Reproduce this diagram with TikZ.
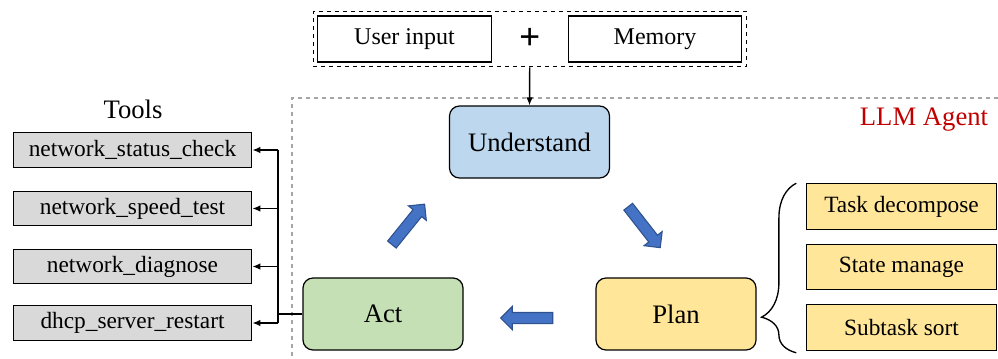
\documentclass[tikz,border=0pt]{standalone}
\usepackage{fontspec}
\setmainfont{Liberation Serif}
\usetikzlibrary{shapes, arrows.meta, fit, decorations.pathreplacing}
\definecolor{undblue}{HTML}{BDD7EE}
\definecolor{actgreen}{HTML}{C5E0B4}
\definecolor{planyellow}{HTML}{FFE699}
\definecolor{toolgray}{HTML}{D9D9D9}
\definecolor{flowblue}{HTML}{4472C4}
\definecolor{flowedge}{HTML}{2F528F}
\definecolor{agentred}{HTML}{C00000}

\begin{document}
\begin{tikzpicture}[x=0.75pt, y=-0.75pt,
    box/.style = {shape=rectangle, draw, line width=0.9pt, align=center, inner sep=0pt},
    stage/.style = {box, rounded corners=7.5pt, minimum width=120pt, minimum height=54pt,
        font=\fontsize{20}{24}\selectfont},
    inbox/.style = {box, minimum width=130pt, minimum height=34.5pt,
        font=\fontsize{18}{22}\selectfont},
    tool/.style = {box, fill=toolgray, minimum width=179pt, minimum height=26pt,
        font=\fontsize{17.5}{21}\selectfont},
    sub/.style = {box, fill=planyellow, minimum width=143pt, minimum height=34pt,
        font=\fontsize{17.5}{21}\selectfont},
    flow/.style = {shape=single arrow, draw=flowedge, fill=flowblue, line width=0.8pt,
        minimum height=39pt, single arrow head extend=4.5pt,
        inner xsep=0pt, inner ysep=3.75pt},
    wire/.style = {line width=1.1pt},
    tip/.style = {wire, -{Latex[length=6pt, width=5pt]}}]
    \useasboundingbox (0,0) rectangle (998,358);

    \draw[gray!70, dashed, line width=0.8pt] (998,98) -- (292,98) -- (292,358);
    \node[text=agentred, font=\fontsize{20}{24}\selectfont] (agent) at (924,120) {LLM Agent};

    \node[inbox] (user) at (404.5,39) {User input};
    \node[inbox] (mem) at (655,39) {Memory};
    \node[font=\fontsize{28}{30}\selectfont\bfseries] (plus) at (530,39) {+};
    \node[draw, dashed, line width=1.1pt, inner sep=3pt, fit=(user)(mem)] (input) {};

    \node[stage, fill=undblue] (und) at (529.5,142) {Understand};
    \node[stage, fill=actgreen] (act) at (383,314) {Act};
    \node[stage, fill=planyellow] (plan) at (676,314) {Plan};

    \draw[tip] (input.south) -- (und.north);

    \node[flow, rotate=51] (up) at (406.5,226.5) {};
    \node[flow, rotate=-52] (down) at (642.5,225) {};
    \node[flow, rotate=180] (back) at (529.5,318) {};

    \node[font=\fontsize{20}{24}\selectfont] (tools) at (133,109) {Tools};
    \foreach \name/\y [count=\i] in {network\_status\_check/150, network\_speed\_test/208.5,
        network\_diagnose/266.5, dhcp\_server\_restart/323}
        \node[tool] (t\i) at (132.5,\y) {\name};

    \coordinate (bus) at (278,314);
    \draw[wire] (act.west) -- (bus);
    \draw[wire] (bus |- t1.east) -- (bus |- t4.east);
    \foreach \i in {1,...,4}
        \draw[tip] (bus |- t\i.east) -- (t\i.east);

    \foreach \name/\y [count=\i] in {Task decompose/206.5, State manage/267, Subtask sort/327.5}
        \node[sub] (s\i) at (901.5,\y) {\name};

    \draw[line width=1pt, decorate, decoration={brace, amplitude=26pt, aspect=0.21}]
        ([xshift=-7pt, yshift=-1.5pt]s3.south west) -- ([xshift=-7pt]s1.north west);
\end{tikzpicture}
\end{document}
